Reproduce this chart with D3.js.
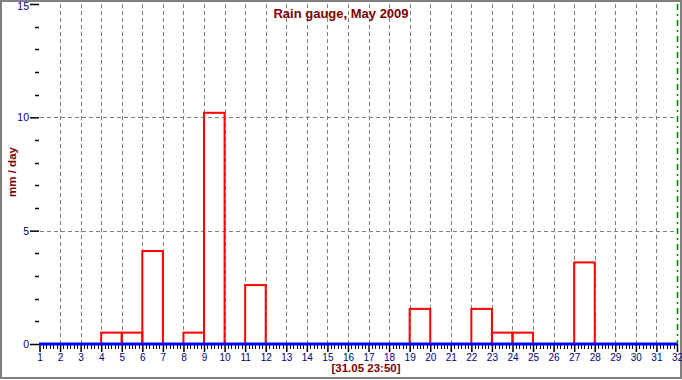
<!DOCTYPE html>
<html>
<head>
<meta charset="utf-8">
<script src="https://cdn.jsdelivr.net/npm/d3@7"></script>
<style>
  body { margin: 0; background: #fff; }
  text { font-family: 'Liberation Sans', Arial, sans-serif; }
</style>
</head>
<body>
<div class="vis-container"></div>
<script>
// Daily rain totals, May 2009 (bar spans day -> day+1)
const days = [4, 5, 6, 8, 9, 11, 19, 22, 23, 24, 27];
const rain = [0.5, 0.5, 4.1, 0.5, 10.2, 2.6, 1.55, 1.55, 0.5, 0.5, 3.6];
const xTicks = d3.range(1, 33);
const yTicks = [0, 5, 10, 15];
const yMinorTicks = [1, 2, 3, 4, 6, 7, 8, 9, 11, 12, 13, 14];

const W = 682, H = 380;
const svg = d3
  .select('.vis-container')
  .append('svg')
  .attr('width', W)
  .attr('height', H);

// outer frame
svg.append('rect')
  .attr('x', 1).attr('y', 1)
  .attr('width', W - 2).attr('height', H - 3)
  .attr('fill', 'white')
  .attr('stroke', '#808080')
  .attr('stroke-width', 2);

const xScale = d3.scaleLinear().domain([1, 32]).range([39.5, 677]);
const yScale = d3.scaleLinear().domain([0, 15]).range([344, 4]);

// vertical grid
svg.append('g')
  .selectAll('line')
  .data(xTicks.filter((d) => d > 1 && d < 32))
  .join('line')
  .attr('x1', (d) => Math.round(xScale(d)) + 0.5)
  .attr('x2', (d) => Math.round(xScale(d)) + 0.5)
  .attr('y1', 4)
  .attr('y2', 344)
  .attr('stroke', '#808080')
  .attr('stroke-dasharray', '4,3');

// horizontal grid
svg.append('g')
  .selectAll('line')
  .data([5, 10])
  .join('line')
  .attr('x1', 40)
  .attr('x2', 677)
  .attr('y1', (d) => Math.round(yScale(d)) + 0.5)
  .attr('y2', (d) => Math.round(yScale(d)) + 0.5)
  .attr('stroke', '#808080')
  .attr('stroke-dasharray', '4,3');

// green end marker
svg.append('line')
  .attr('x1', 677.5).attr('x2', 677.5)
  .attr('y1', 4).attr('y2', 344)
  .attr('stroke', '#008000')
  .attr('stroke-width', 1.5)
  .attr('stroke-dasharray', '6,4,2,4');

// bars
svg.append('g')
  .selectAll('rect')
  .data(days.map((d, i) => ({ day: d, v: rain[i] })))
  .join('rect')
  .attr('x', (d) => xScale(d.day))
  .attr('y', (d) => yScale(d.v))
  .attr('width', (d) => xScale(d.day + 1) - xScale(d.day))
  .attr('height', (d) => yScale(0) - yScale(d.v))
  .attr('fill', 'none')
  .attr('stroke', 'red')
  .attr('stroke-width', 2);

// y axis
const yAxis = d3.axisLeft(yScale).tickValues(yTicks).tickSize(9).tickPadding(1);
svg.append('g')
  .attr('transform', 'translate(39,0)')
  .call(yAxis)
  .call((g) => g.select('.domain').remove())
  .call((g) => g.selectAll('.tick line').attr('stroke', 'black').attr('stroke-width', 1.5))
  .call((g) =>
    g.selectAll('.tick text')
      .attr('fill', '#000080')
      .attr('font-size', 10.5)
      .attr('font-family', "'Liberation Sans', Arial, sans-serif")
  )
  .call((g) =>
    g.selectAll('.tick text').filter((d) => d === 15).attr('dy', '0.55em')
  );

svg.append('g')
  .selectAll('line')
  .data(yMinorTicks)
  .join('line')
  .attr('x1', 35)
  .attr('x2', 39)
  .attr('y1', (d) => Math.round(yScale(d)) + 0.5)
  .attr('y2', (d) => Math.round(yScale(d)) + 0.5)
  .attr('stroke', 'black')
  .attr('stroke-width', 1.5);

// x axis
const xMinor = d3.range(1, 32, 1 / 6).filter((d) => Math.abs(d - Math.round(d)) > 0.01);
svg.append('g')
  .selectAll('line')
  .data(xMinor)
  .join('line')
  .attr('x1', (d) => Math.round(xScale(d)) + 0.5)
  .attr('x2', (d) => Math.round(xScale(d)) + 0.5)
  .attr('y1', 344)
  .attr('y2', 349)
  .attr('stroke', 'black');

const xAxis = d3.axisBottom(xScale).tickValues(xTicks).tickSize(8).tickPadding(2).tickFormat(d3.format('d'));
svg.append('g')
  .attr('transform', 'translate(0,344)')
  .call(xAxis)
  .call((g) => g.select('.domain').remove())
  .call((g) => g.selectAll('.tick line').attr('stroke', 'black').attr('stroke-width', 1.5))
  .call((g) =>
    g.selectAll('.tick text')
      .attr('fill', '#000080')
      .attr('font-size', 10)
      .attr('font-family', "'Liberation Sans', Arial, sans-serif")
  );

svg.append('line')
  .attr('x1', 39).attr('x2', 677)
  .attr('y1', 344).attr('y2', 344)
  .attr('stroke', '#0000ff')
  .attr('stroke-width', 3);

// labels
svg.append('text')
  .attr('x', 341)
  .attr('y', 18)
  .attr('text-anchor', 'middle')
  .attr('font-size', 13)
  .attr('font-weight', 'bold')
  .attr('fill', '#800000')
  .text('Rain gauge, May 2009');

svg.append('text')
  .attr('transform', 'translate(16,172) rotate(-90)')
  .attr('text-anchor', 'middle')
  .attr('font-size', 11.5)
  .attr('font-weight', 'bold')
  .attr('fill', '#800000')
  .text('mm / day');

svg.append('text')
  .attr('x', 366)
  .attr('y', 372)
  .attr('text-anchor', 'middle')
  .attr('font-size', 11.5)
  .attr('font-weight', 'bold')
  .attr('fill', '#800000')
  .text('[31.05 23:50]');
</script>
</body>
</html>
